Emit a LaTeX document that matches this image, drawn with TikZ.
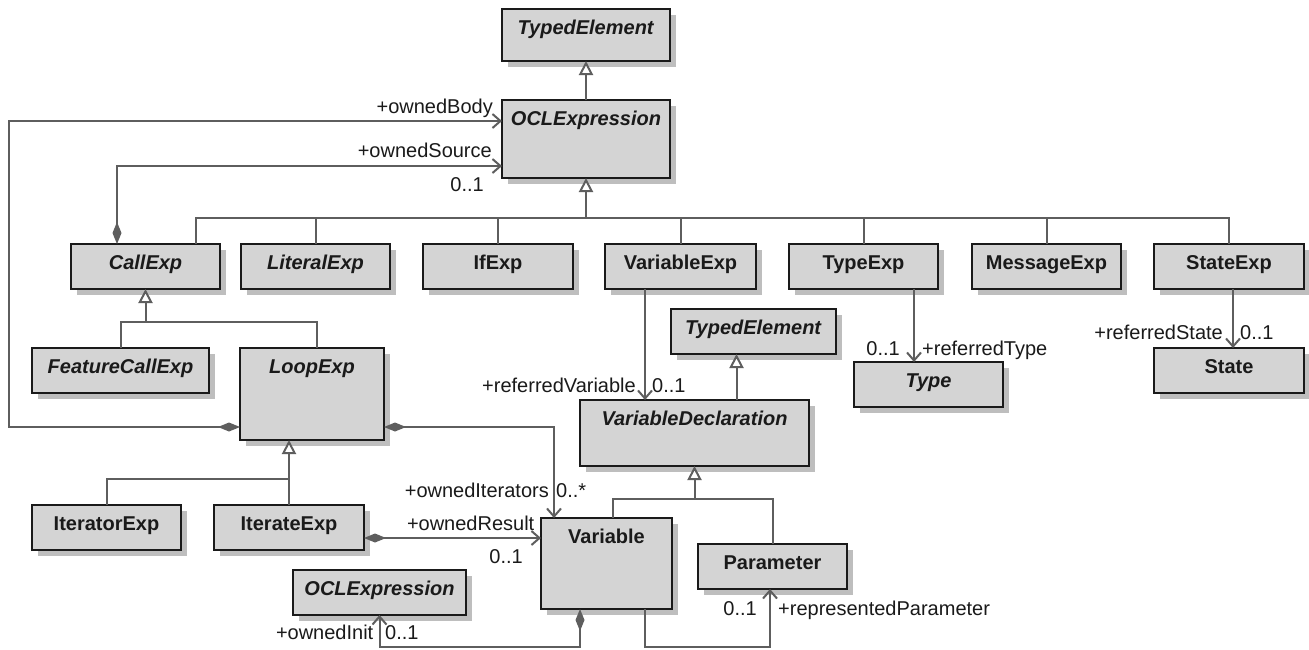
\documentclass[tikz,border=0pt]{standalone}
\usepackage{fontspec}
\setmainfont{Liberation Sans}
\usepackage{tikz}
\usetikzlibrary{arrows.meta,positioning,calc,shadows}
\definecolor{BoxFill}{HTML}{D4D4D4}
\definecolor{BoxShadow}{HTML}{BEBEBE}
\definecolor{BoxBorder}{HTML}{1A1A1A}
\definecolor{LineGrey}{HTML}{5E5E5E}
\definecolor{TextDark}{HTML}{1A1A1A}

\begin{document}
\begin{tikzpicture}[x=1pt,y=-1pt,
  cls/.style={draw=BoxBorder,line width=2.2pt,fill=BoxFill,outer sep=0pt,inner sep=0pt,
    drop shadow={shadow xshift=6pt,shadow yshift=-6pt,fill=BoxShadow,opacity=1}},
  clsname/.style={anchor=base,inner sep=0pt,text=TextDark,font=\fontsize{20}{24}\selectfont\bfseries},
  lbl/.style={inner sep=0pt,text=TextDark,font=\fontsize{20}{24}\selectfont},
  link/.style={draw=LineGrey,line width=2pt},
  gen/.style={link,-{Triangle[length=14pt,width=14pt,fill=white]}},
  nav/.style={link,-{Straight Barb[length=8pt,width=14pt]}},
  comp/.style={link,{Diamond[length=22pt,width=9pt]}-{Straight Barb[length=8pt,width=14pt]}}]
  \fill[white] (0,0) rectangle (1309,649);
  \useasboundingbox (0,0) rectangle (1309,649);
  % Klassen
  \foreach \nm/\cx/\ty/\w/\h/\txt in {
      te1/586/9/168/52/\textit{TypedElement},
      ocl/586/100/168/78/\textit{OCLExpression},
      callexp/145.5/244/149/45/\textit{CallExp},
      litexp/315.5/244/149/45/\textit{LiteralExp},
      ifexp/498/244/150/45/IfExp,
      varexp/680.5/244/151/45/VariableExp,
      typeexp/863.5/244/149/45/TypeExp,
      msgexp/1046.5/244/149/45/MessageExp,
      stateexp/1229/244/150/45/StateExp,
      te2/753.5/309/165/45/\textit{TypedElement},
      type/928.5/362/149/45/\textit{Type},
      state/1229/348/150/45/State,
      featcall/120.5/348/177/45/\textit{FeatureCallExp},
      loopexp/312/348/144/92/\textit{LoopExp},
      vardecl/694.5/400/229/66/\textit{VariableDeclaration},
      iterator/106.5/505/149/45/IteratorExp,
      iterate/289/505/150/45/IterateExp,
      variable/606.5/518/131/91/Variable,
      parameter/772.5/544/149/45/Parameter,
      ocl2/379.5/570/173/45/\textit{OCLExpression}} {
    \node[cls,anchor=north,minimum width=\w pt,minimum height=\h pt] (\nm) at (\cx,\ty) {};
    \node[clsname] (\nm-t) at ([yshift=-25pt]\nm.north) {\txt};
  }
  % Generalisierungen
  \draw[gen] (ocl.north) -- (te1.south);
  \coordinate (busA) at (586,218);
  \draw[link] ([xshift=50.5pt]callexp.north) |- (stateexp.north |- busA) -- (stateexp.north);
  \foreach \nm in {litexp,ifexp,varexp,typeexp,msgexp}
    \draw[link] (\nm.north) -- (\nm.north |- busA);
  \draw[gen] (busA) -- (ocl.south);
  \coordinate (busB) at (145.5,322);
  \draw[link] (featcall.north) |- ([xshift=5pt]loopexp.north |- busB) -- ([xshift=5pt]loopexp.north);
  \draw[gen] (busB) -- (callexp.south);
  \draw[link] (iterator.north) |- (iterate.north |- 0,479);
  \draw[gen] (iterate.north) -- (iterate.north |- loopexp.south);
  \coordinate (busC) at (694.5,499);
  \draw[link] ([xshift=6.5pt]variable.north) |- (parameter.north |- busC) -- (parameter.north);
  \draw[gen] (busC) -- (vardecl.south);
  \coordinate (sTe) at ([xshift=-17pt]te2.south);
  \draw[gen] (sTe |- vardecl.north) -- (sTe);
  % Assoziationen
  \coordinate (bodyL) at (9,121);
  \draw[comp] ([yshift=13pt]loopexp.south west) -| (bodyL) -- (bodyL -| ocl.west) coordinate (eBody);
  \node[lbl,anchor=base east] (lBody) at ([xshift=-9pt,yshift=8pt]eBody) {+ownedBody};
  \draw[comp] ([xshift=-28.5pt]callexp.north) |- ([yshift=12pt]ocl.south west) coordinate (eSrc);
  \node[lbl,anchor=base east] (lSrc) at ([xshift=-10pt,yshift=9pt]eSrc) {+ownedSource};
  \node[lbl,anchor=base east] (mSrc) at ([xshift=-18pt,yshift=-25pt]eSrc) {0..1};
  \coordinate (sVar) at ([xshift=-35.5pt]varexp.south);
  \draw[nav] (sVar) -- (sVar |- vardecl.north) coordinate (eVar);
  \node[lbl,anchor=base east] (lVar) at ([xshift=-9pt,yshift=8pt]eVar) {+referredVariable};
  \node[lbl,anchor=base west] (mVar) at ([xshift=7pt,yshift=8pt]eVar) {0..1};
  \coordinate (sType) at ([xshift=50.5pt]typeexp.south);
  \draw[nav] (sType) -- (sType |- type.north) coordinate (eType);
  \node[lbl,anchor=base east] (mType) at ([xshift=-14pt,yshift=7pt]eType) {0..1};
  \node[lbl,anchor=base west] (lType) at ([xshift=8pt,yshift=7pt]eType) {+referredType};
  \coordinate (sState) at ([xshift=4pt]stateexp.south);
  \draw[nav] (sState) -- (sState |- state.north) coordinate (eState);
  \node[lbl,anchor=base east] (lState) at ([xshift=-10pt,yshift=9pt]eState) {+referredState};
  \node[lbl,anchor=base west] (mState) at ([xshift=7pt,yshift=9pt]eState) {0..1};
  \draw[comp] ([yshift=13pt]loopexp.south east) -| ([xshift=13pt]variable.north west) coordinate (eIter);
  \node[lbl,anchor=base east] (lIter) at ([xshift=-5pt,yshift=21pt]eIter) {+ownedIterators};
  \node[lbl,anchor=base west] (mIter) at ([xshift=2pt,yshift=21pt]eIter) {0..*};
  \coordinate (sRes) at ([yshift=-10.5pt]iterate.east);
  \draw[comp] (sRes) -- (sRes -| variable.west) coordinate (eRes);
  \node[lbl,anchor=base east] (lRes) at ([xshift=-6.5pt,yshift=8pt]eRes) {+ownedResult};
  \node[lbl,anchor=base east] (mRes) at ([xshift=-18pt,yshift=-25pt]eRes) {0..1};
  \coordinate (sInit) at ([xshift=-26.5pt]variable.south);
  \draw[comp] (sInit) -- ++(0,38) -| (ocl2.south) coordinate (eInit);
  \node[lbl,anchor=base east] (lInit) at ([xshift=-6pt,yshift=-24pt]eInit) {+ownedInit};
  \node[lbl,anchor=base west] (mInit) at ([xshift=5.5pt,yshift=-24pt]eInit) {0..1};
  \coordinate (sPar) at ([xshift=38.5pt]variable.south);
  \draw[nav] (sPar) -- ++(0,38) -| ([xshift=-2.5pt]parameter.south) coordinate (ePar);
  \node[lbl,anchor=base east] (mPar) at ([xshift=-13pt,yshift=-26pt]ePar) {0..1};
  \node[lbl,anchor=base west] (lPar) at ([xshift=8pt,yshift=-26pt]ePar) {+representedParameter};
\end{tikzpicture}
\end{document}
